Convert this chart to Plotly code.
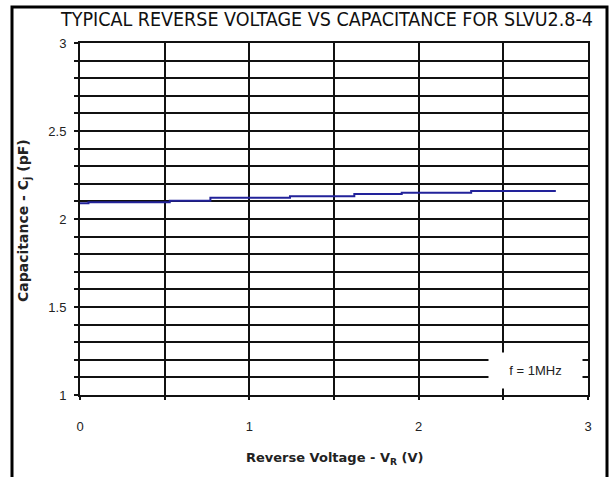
import plotly.graph_objects as go

# Data (step curve)
voltage = [0.0, 0.05, 0.53, 0.77, 1.24, 1.62, 1.90, 2.31, 2.81]
capacitance = [2.089, 2.095, 2.104, 2.121, 2.129, 2.142, 2.149, 2.159, 2.159]

x_tickvals = [0, 0.5, 1, 1.5, 2, 2.5, 3]
x_ticktext = ["0", "", "1", "", "2", "", "3"]
y_tickvals = [round(1 + 0.1 * i, 1) for i in range(21)]
y_ticktext = [("%g" % v) if abs(v * 2 - round(v * 2)) < 1e-9 else "" for v in y_tickvals]

title_text = "TYPICAL REVERSE VOLTAGE VS CAPACITANCE FOR SLVU2.8-4"
x_title = "Reverse Voltage - V<sub>R</sub> (V)"
y_title = "Capacitance - C<sub>j</sub> (pF)"
note_text = "f = 1MHz"

fig = go.Figure()
fig.add_trace(go.Scatter(
    x=voltage, y=capacitance, mode="lines", line_shape="hv",
    line=dict(color="#22229a", width=2), showlegend=False, hoverinfo="skip"))

font_main = "Liberation Sans, Arial, sans-serif"

fig.update_layout(
    width=610, height=477,
    margin=dict(l=80, r=22, t=43, b=82),
    paper_bgcolor="white", plot_bgcolor="white",
    showlegend=False,
    font=dict(family=font_main, size=12, color="#222"),
)
fig.update_xaxes(
    range=[0, 3], tickvals=x_tickvals, ticktext=x_ticktext,
    showgrid=True, gridcolor="#111", gridwidth=2,
    showline=True, linecolor="#111", linewidth=2, mirror=True,
    ticks="outside", ticklen=3, tickcolor="#111", tickwidth=2,
    ticklabelstandoff=15, zeroline=False,
    tickfont=dict(size=13, color="#222"),
)
fig.update_yaxes(
    range=[1, 3], tickvals=y_tickvals, ticktext=y_ticktext,
    showgrid=True, gridcolor="#111", gridwidth=2,
    showline=True, linecolor="#111", linewidth=2, mirror=True,
    ticks="outside", ticklen=4, tickcolor="#111", tickwidth=2,
    ticklabelstandoff=5, zeroline=False,
    tickfont=dict(size=13, color="#222"),
)

# Outer frame
fig.add_shape(type="rect", xref="paper", yref="paper",
              x0=(12 - 80) / 508, x1=(607 - 80) / 508,
              y0=(395 - 490) / 352, y1=(395 - 7) / 352,
              line=dict(color="black", width=3), fillcolor="rgba(0,0,0,0)")

# Title
fig.add_annotation(text=title_text, xref="paper", yref="paper",
                   x=(326 - 80) / 508, y=(395 - 20) / 352, showarrow=False,
                   xanchor="center", yanchor="middle",
                   font=dict(family="DejaVu Sans Condensed, Liberation Sans Narrow, sans-serif",
                             size=19.5, color="#111"))
# Axis titles
fig.add_annotation(text="<b>" + x_title + "</b>", xref="paper", yref="paper",
                   x=0.5, y=(395 - 458) / 352, showarrow=False,
                   xanchor="center", yanchor="middle",
                   font=dict(family="DejaVu Sans, sans-serif", size=13, color="#222"))
fig.add_annotation(text="<b>" + y_title + "</b>", xref="paper", yref="paper",
                   x=(24 - 80) / 508, y=(395 - 221) / 352, showarrow=False, textangle=-90,
                   xanchor="center", yanchor="middle",
                   font=dict(family="DejaVu Sans, sans-serif", size=14, color="#222"))
# Frequency note
fig.add_annotation(text=note_text, x=2.687, y=1.139, showarrow=False,
                   xanchor="center", yanchor="middle",
                   width=93, height=35, bgcolor="white", borderpad=0,
                   font=dict(size=13, color="#222"))

fig.write_html("out.html", config={"displayModeBar": False},
               post_script="document.body.style.margin='0';")
